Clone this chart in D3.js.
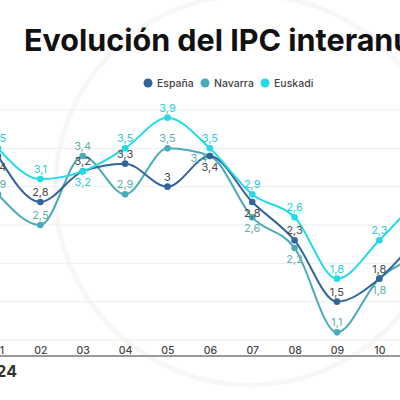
<!DOCTYPE html>
<html>
<head>
<meta charset="utf-8">
<script src="https://cdnjs.cloudflare.com/ajax/libs/d3/7.8.5/d3.min.js"></script>
<style>
  body { margin: 0; background: #fff; overflow: hidden; }
  svg { display: block; font-family: Inter, "Noto Sans", sans-serif; }
</style>
</head>
<body>
<div id="chart"></div>
<script>
// data (months of 2024, IPC interanual %)
var months = ["01", "02", "03", "04", "05", "06", "07", "08", "09", "10", "11"];
var espana  = [3.4, 2.8, 3.2, 3.3, 3.0, 3.4, 2.8, 2.3, 1.5, 1.8, 2.4];
var navarra = [2.9, 2.5, 3.4, 2.9, 3.5, 3.4, 2.6, 2.2, 1.1, 1.8, 2.1];
var euskadi = [3.5, 3.1, 3.2, 3.5, 3.9, 3.5, 2.9, 2.6, 1.8, 2.3, 2.9];
var seriesNames = ["España", "Navarra", "Euskadi"];
var yTicks = [1, 1.5, 2, 2.5, 3, 3.5, 4];

// where each value label sits (a = above, b = below, l = left)
var labelPos = {
  "España":  "baaaabbaaaa",
  "Navarra": "aaaaalbbaba",
  "Euskadi": "aabaaaaaaaa"
};

var colors = { "España": "#33649a", "Navarra": "#49abb9", "Euskadi": "#22dbe6" };
var labelColors = { "España": "#4a4a4a", "Navarra": "#5db3aa", "Euskadi": "#2ccbd8" };

var width = 400, height = 400;

var svg = d3.select("#chart")
  .append("svg")
    .attr("width", width)
    .attr("height", height);

// scales
var x = d3.scalePoint()
  .domain(months)
  .range([-2, 421.7]);

var y = d3.scaleLinear()
  .domain([1, 4])
  .range([340, 110]);

// faint background arc (watermark)
svg.append("circle")
  .attr("cx", 250).attr("cy", 190).attr("r", 195)
  .attr("fill", "none").attr("stroke", "#f7f7f7").attr("stroke-width", 5);

// grid lines
svg.append("g")
  .selectAll("line")
  .data(yTicks)
  .enter()
  .append("line")
    .attr("x1", 0).attr("x2", width)
    .attr("y1", function(d) { return y(d); })
    .attr("y2", function(d) { return y(d); })
    .attr("stroke", "#eeeeee")
    .attr("stroke-width", 1);

// title
svg.append("text")
  .attr("x", 24)
  .attr("y", 51)
  .style("font-size", "30.5px")
  .style("font-weight", "700")
  .style("fill", "#111")
  .text("Evolución del IPC interanual");

// legend
var legend = svg.append("g").attr("transform", "translate(148,83)");
var legendX = [0, 57, 117];
seriesNames.forEach(function(name, i) {
  legend.append("circle")
    .attr("cx", legendX[i]).attr("cy", 0).attr("r", 4.5)
    .attr("fill", colors[name]);
  legend.append("text")
    .attr("x", legendX[i] + 9).attr("y", 3.8)
    .style("font-size", "10.5px")
    .style("font-weight", "500")
    .style("fill", "#444")
    .text(name);
});

// x axis labels
var xAxis = svg.append("g")
  .attr("transform", "translate(0,341)")
  .call(d3.axisBottom(x).tickSize(0).tickPadding(6));
xAxis.select(".domain").remove();
xAxis.selectAll(".tick text")
  .style("font-family", "Inter, sans-serif")
  .style("font-size", "10.5px")
  .style("font-weight", "500")
  .style("fill", "#444");

// bottom rule
svg.append("line")
  .attr("x1", 0).attr("x2", width)
  .attr("y1", 356).attr("y2", 356)
  .attr("stroke", "#9a9a9a")
  .attr("stroke-width", 2);

svg.append("text")
  .attr("x", 17)
  .attr("y", 377)
  .attr("text-anchor", "end")
  .style("font-size", "16px")
  .style("font-weight", "700")
  .style("fill", "#333")
  .text("2024");

// lines
var allSeries = [
  { name: "Navarra", values: navarra },
  { name: "España", values: espana },
  { name: "Euskadi", values: euskadi }
];

var line = d3.line()
  .x(function(d, i) { return x(months[i]); })
  .y(function(d) { return y(d); })
  .curve(d3.curveMonotoneX);

allSeries.forEach(function(s) {
  svg.append("path")
    .datum(s.values)
    .attr("fill", "none")
    .attr("stroke", colors[s.name])
    .attr("stroke-width", 2)
    .attr("d", line);
});

allSeries.forEach(function(s) {
  svg.append("g")
    .selectAll("circle")
    .data(s.values)
    .enter()
    .append("circle")
      .attr("cx", function(d, i) { return x(months[i]); })
      .attr("cy", function(d) { return y(d); })
      .attr("r", 3.3)
      .attr("fill", colors[s.name]);
});

// value labels
var fmt = function(v) { return String(v).replace(".", ","); };
allSeries.forEach(function(s) {
  svg.append("g")
    .selectAll("text")
    .data(s.values)
    .enter()
    .append("text")
      .attr("x", function(d, i) {
        var p = labelPos[s.name][i];
        return x(months[i]) + (p === "l" ? -11 : 0);
      })
      .attr("y", function(d, i) {
        var p = labelPos[s.name][i];
        if (p === "b") return y(d) + 15;
        if (p === "l") return y(d) + 6;
        return y(d) - 6;
      })
      .attr("text-anchor", "middle")
      .style("font-size", "11px")
      .style("fill", labelColors[s.name])
      .text(fmt);
});
</script>
</body>
</html>
